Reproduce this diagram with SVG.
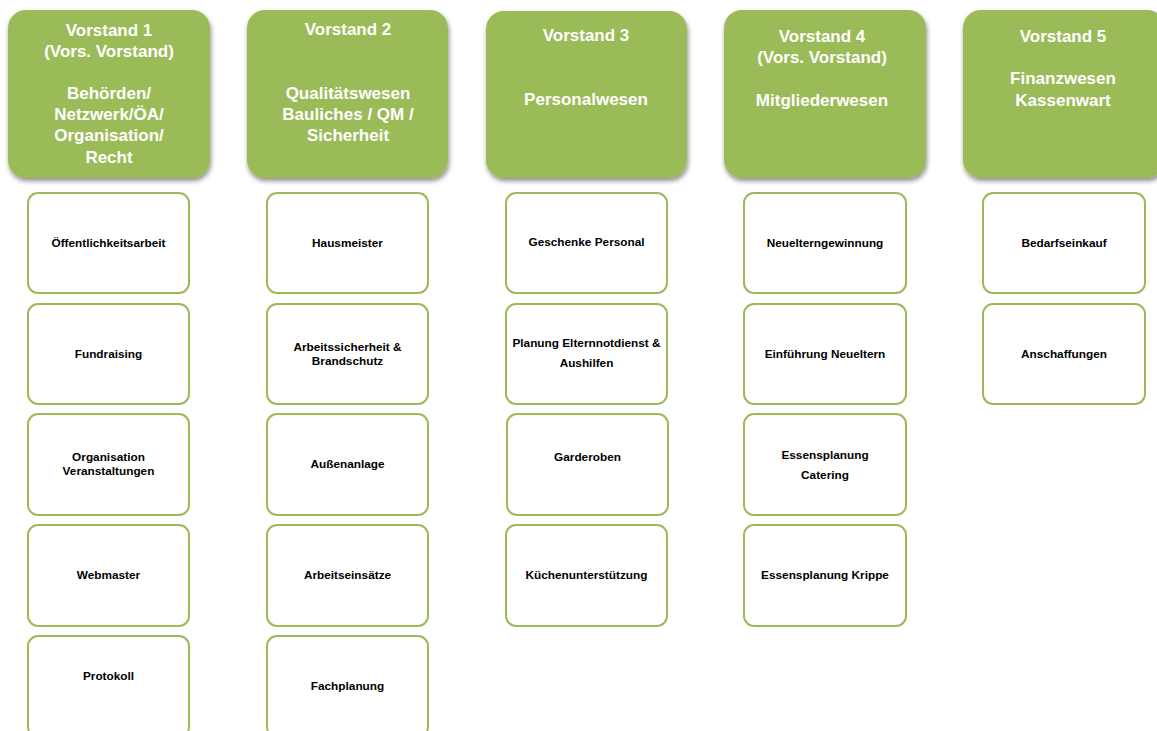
<svg xmlns="http://www.w3.org/2000/svg" width="1157" height="731" viewBox="0 0 1157 731">
<defs>
<filter id="sh" x="-10%" y="-10%" width="125%" height="125%">
<feGaussianBlur in="SourceAlpha" stdDeviation="2.5"/>
<feOffset dx="1" dy="3" result="b"/>
<feComponentTransfer><feFuncA type="linear" slope="0.45"/></feComponentTransfer>
<feMerge><feMergeNode/><feMergeNode in="SourceGraphic"/></feMerge>
</filter>
<style>
.hd{fill:#9BBB59;filter:url(#sh)}
.ht{fill:#fff;font-family:"Liberation Sans",Arial,sans-serif;font-weight:bold;font-size:17px;text-anchor:middle}
.ch{fill:#fff;stroke:#9BBB59;stroke-width:2}
.ct{fill:#000;font-family:"Liberation Sans",Arial,sans-serif;font-weight:bold;font-size:11.8px;text-anchor:middle}
</style>
</defs>
<rect width="1157" height="731" fill="#fff"/>
<g id="v1"><rect class="hd" x="8" y="10" width="202" height="168" rx="18"/>
<text class="ht" x="109"><tspan x="109" y="36">Vorstand 1</tspan><tspan x="109" y="57">(Vors. Vorstand)</tspan><tspan x="109" y="99">Behörden/</tspan><tspan x="109" y="120">Netzwerk/ÖA/</tspan><tspan x="109" y="141">Organisation/</tspan><tspan x="109" y="163">Recht</tspan></text></g>
<g id="v2"><rect class="hd" x="247" y="10" width="201" height="168" rx="18"/>
<text class="ht"><tspan x="348" y="35">Vorstand 2</tspan><tspan x="348" y="99">Qualitätswesen</tspan><tspan x="348" y="120">Bauliches / QM /</tspan><tspan x="348" y="141">Sicherheit</tspan></text></g>
<g id="v3"><rect class="hd" x="486" y="11" width="201" height="167" rx="18"/>
<text class="ht"><tspan x="586" y="41">Vorstand 3</tspan><tspan x="586" y="105">Personalwesen</tspan></text></g>
<g id="v4"><rect class="hd" x="724" y="10" width="202" height="168" rx="18"/>
<text class="ht"><tspan x="822" y="42">Vorstand 4</tspan><tspan x="822" y="63">(Vors. Vorstand)</tspan><tspan x="822" y="106">Mitgliederwesen</tspan></text></g>
<g id="v5"><rect class="hd" x="963" y="10" width="202" height="168" rx="18"/>
<text class="ht"><tspan x="1063" y="42">Vorstand 5</tspan><tspan x="1063" y="84">Finanzwesen</tspan><tspan x="1063" y="106">Kassenwart</tspan></text></g>

<g id="c1-1"><rect class="ch" x="28" y="193" width="161" height="100" rx="10"/><text class="ct" x="108.5" y="247">Öffentlichkeitsarbeit</text></g>
<g id="c1-2"><rect class="ch" x="28" y="304" width="161" height="100" rx="10"/><text class="ct" x="108.5" y="358">Fundraising</text></g>
<g id="c1-3"><rect class="ch" x="28" y="414" width="161" height="101" rx="10"/><text class="ct"><tspan x="108.5" y="461">Organisation</tspan><tspan x="108.5" y="475">Veranstaltungen</tspan></text></g>
<g id="c1-4"><rect class="ch" x="28" y="525" width="161" height="101" rx="10"/><text class="ct" x="108.5" y="579">Webmaster</text></g>
<g id="c1-5"><rect class="ch" x="28" y="636" width="161" height="101" rx="10"/><text class="ct" x="108.5" y="680">Protokoll</text></g>

<g id="c2-1"><rect class="ch" x="267" y="193" width="161" height="100" rx="10"/><text class="ct" x="347.5" y="247">Hausmeister</text></g>
<g id="c2-2"><rect class="ch" x="267" y="304" width="161" height="100" rx="10"/><text class="ct"><tspan x="347.5" y="351">Arbeitssicherheit &amp;</tspan><tspan x="347.5" y="365">Brandschutz</tspan></text></g>
<g id="c2-3"><rect class="ch" x="267" y="414" width="161" height="101" rx="10"/><text class="ct" x="347.5" y="468">Außenanlage</text></g>
<g id="c2-4"><rect class="ch" x="267" y="525" width="161" height="101" rx="10"/><text class="ct" x="347.5" y="579">Arbeitseinsätze</text></g>
<g id="c2-5"><rect class="ch" x="267" y="636" width="161" height="101" rx="10"/><text class="ct" x="347.5" y="690">Fachplanung</text></g>

<g id="c3-1"><rect class="ch" x="506" y="193" width="161" height="100" rx="10"/><text class="ct" x="586.5" y="246">Geschenke Personal</text></g>
<g id="c3-2"><rect class="ch" x="506" y="304" width="161" height="100" rx="10"/><text class="ct"><tspan x="586.5" y="347">Planung Elternnotdienst &amp;</tspan><tspan x="586.5" y="367">Aushilfen</tspan></text></g>
<g id="c3-3"><rect class="ch" x="507" y="414" width="161" height="101" rx="10"/><text class="ct" x="587.5" y="461">Garderoben</text></g>
<g id="c3-4"><rect class="ch" x="506" y="525" width="161" height="101" rx="10"/><text class="ct" x="586.5" y="579">Küchenunterstützung</text></g>

<g id="c4-1"><rect class="ch" x="744" y="193" width="162" height="100" rx="10"/><text class="ct" x="825" y="247">Neuelterngewinnung</text></g>
<g id="c4-2"><rect class="ch" x="744" y="304" width="162" height="100" rx="10"/><text class="ct" x="825" y="358">Einführung Neueltern</text></g>
<g id="c4-3"><rect class="ch" x="744" y="414" width="162" height="101" rx="10"/><text class="ct"><tspan x="825" y="459">Essensplanung</tspan><tspan x="825" y="479">Catering</tspan></text></g>
<g id="c4-4"><rect class="ch" x="744" y="525" width="162" height="101" rx="10"/><text class="ct" x="825" y="579">Essensplanung Krippe</text></g>

<g id="c5-1"><rect class="ch" x="983" y="193" width="162" height="100" rx="10"/><text class="ct" x="1064" y="247">Bedarfseinkauf</text></g>
<g id="c5-2"><rect class="ch" x="983" y="304" width="162" height="100" rx="10"/><text class="ct" x="1064" y="358">Anschaffungen</text></g>
<g id="connectors"></g>
</svg>
